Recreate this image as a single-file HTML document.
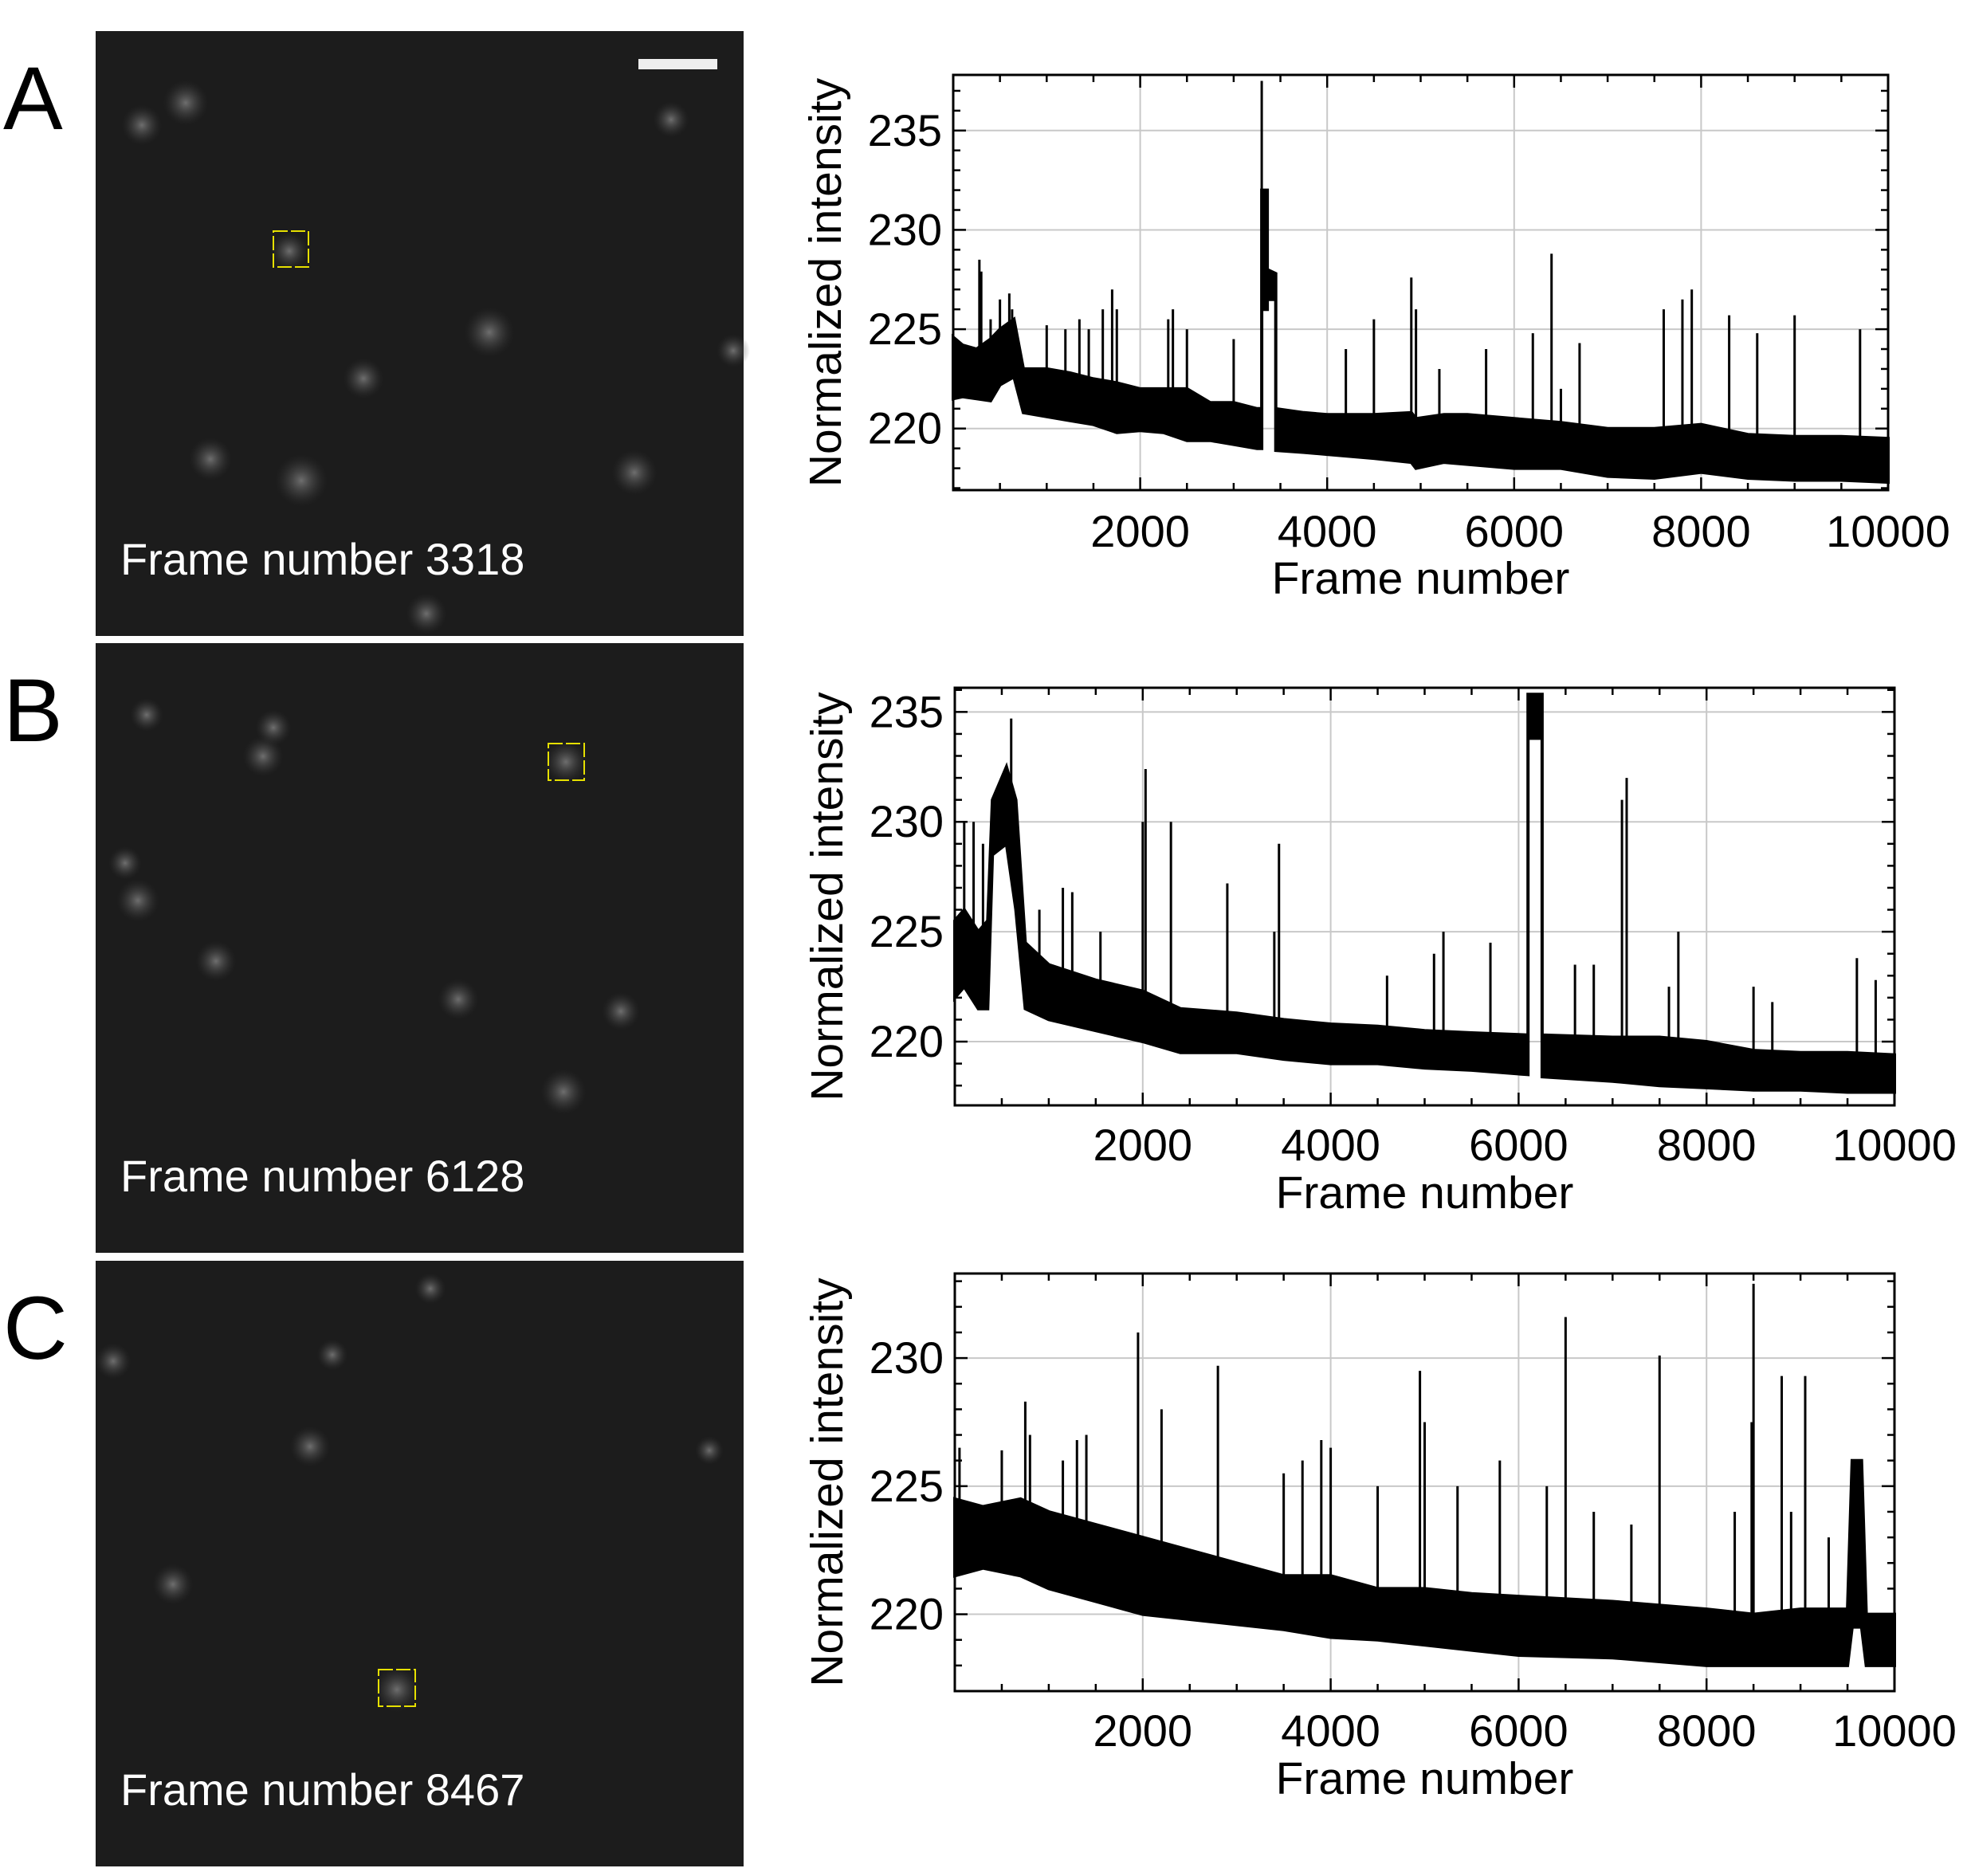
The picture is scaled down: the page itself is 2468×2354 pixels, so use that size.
<!DOCTYPE html>
<html><head><meta charset="utf-8">
<style>
html,body{margin:0;padding:0;background:#fff;}
svg{display:block;font-family:"Liberation Sans",Arial,sans-serif;}
</style></head>
<body>
<svg id="fig" width="2468" height="2354" viewBox="0 0 2468 2354" xmlns="http://www.w3.org/2000/svg">
<defs>
<radialGradient id="spot" cx="50%" cy="50%" r="50%">
<stop offset="0%" stop-color="#8a8a8a" stop-opacity="0.75"/>
<stop offset="60%" stop-color="#5a5a5a" stop-opacity="0.3"/>
<stop offset="100%" stop-color="#333" stop-opacity="0"/>
</radialGradient>
</defs>
<g id="images"></g>
<g id="charts"></g>
</svg>
<script>
// ---------- Panel A data ----------
const framesA = [0,100,250,400,500,650,750,1000,1250,1500,1750,2000,2250,2500,2750,3000,3250,3300,3300,3360,3360,3450,3450,3750,4000,4500,4900,4950,5250,5500,6000,6500,7000,7500,8000,8500,9000,9500,10000];
const lowA    = [221.5,221.6,221.5,221.4,222.2,222.6,220.8,220.6,220.4,220.2,219.8,219.9,219.8,219.4,219.4,219.2,219.0,219.0,226.0,226.0,226.5,226.5,218.9,218.8,218.7,218.5,218.3,218.0,218.3,218.2,218.0,218.0,217.6,217.5,217.8,217.5,217.4,217.4,217.3];
const highA   = [224.6,224.2,224.0,224.5,225.0,225.5,223.0,223.0,222.8,222.5,222.3,222.0,222.0,222.0,221.3,221.3,221.0,221.0,232.0,232.0,228.0,227.8,221.0,220.8,220.7,220.7,220.8,220.5,220.7,220.7,220.5,220.3,220.0,220.0,220.2,219.7,219.6,219.6,219.5];
const spikeFramesA = [280,300,400,500,600,630,1000,1200,1350,1450,1600,1700,1750,2300,2350,2500,3000,3300,4200,4500,4900,4950,5200,5700,6200,6400,6500,6700,7600,7800,7900,8300,8600,9000,9700];
const spikeValuesA = [228.5,227.9,225.5,226.5,226.8,226.0,225.2,225.0,225.5,225.0,226.0,227.0,226.0,225.5,226.0,225.0,224.5,237.5,224.0,225.5,227.6,226.0,223.0,224.0,224.8,228.8,222.0,224.3,226.0,226.5,227.0,225.7,224.8,225.7,225.0];

// ---------- Panel B data ----------
const framesB = [0,100,250,350,400,550,650,750,1000,1500,2000,2400,3000,3500,4000,4500,5000,5500,6100,6100,6250,6250,7000,7500,8000,8500,9000,9500,10000];
const lowB    = [222.0,222.5,221.5,221.5,228.5,229.0,226.0,221.5,221.0,220.5,220.0,219.5,219.5,219.2,219.0,219.0,218.8,218.7,218.5,233.8,233.8,218.4,218.2,218.0,217.9,217.8,217.8,217.7,217.7];
const highB   = [225.5,226.0,225.0,225.5,231.0,232.5,231.0,224.5,223.5,222.8,222.3,221.5,221.3,221.0,220.8,220.7,220.5,220.4,220.3,235.8,235.8,220.3,220.2,220.2,220.0,219.6,219.5,219.5,219.4];
const spikeFramesB = [100,200,300,600,900,1150,1250,1550,2000,2030,2300,2900,3400,3450,4600,5100,5200,5700,6600,6800,7100,7150,7600,7700,8500,8700,9600,9800];
const spikeValuesB = [230.0,230.0,229.0,234.7,226.0,227.0,226.8,225.0,230.0,232.4,230.0,227.2,225.0,229.0,223.0,224.0,225.0,224.5,223.5,223.5,231.0,232.0,222.5,225.0,222.5,221.8,223.8,222.8];

// ---------- Panel C data ----------
const framesC = [0,300,700,1000,1500,2000,2500,3000,3500,4000,4500,5000,5500,6000,7000,8000,8500,9000,9500,9550,9650,9700,10000];
const lowC    = [221.5,221.8,221.5,221.0,220.5,220.0,219.8,219.6,219.4,219.1,219.0,218.8,218.6,218.4,218.3,218.0,218.0,218.0,218.0,219.5,219.5,218.0,218.0];
const highC   = [224.5,224.2,224.5,224.0,223.5,223.0,222.5,222.0,221.5,221.5,221.0,221.0,220.8,220.7,220.5,220.2,220.0,220.2,220.2,226.0,226.0,220.0,220.0];
const spikeFramesC = [50,500,750,800,1150,1300,1400,1950,2200,2800,3500,3700,3900,4000,4500,4950,5000,5350,5800,6300,6500,6800,7200,7500,8300,8480,8500,8800,8900,9050,9300,9600];
const spikeValuesC = [226.5,226.4,228.3,227.0,226.0,226.8,227.0,231.0,228.0,229.7,225.5,226.0,226.8,226.5,225.0,229.5,227.5,225.0,226.0,225.0,231.6,224.0,223.5,230.1,224.0,227.5,232.9,229.3,224.0,229.3,223.0,226.0];

const xTicks = [2000,4000,6000,8000,10000];
const yTicksA = [220,225,230,235];
const yTicksB = [220,225,230,235];
const yTicksC = [220,225,230];

const NS = "http://www.w3.org/2000/svg";
function mk(tag, attrs, parent){
  const e = document.createElementNS(NS, tag);
  for (const k in attrs) e.setAttribute(k, attrs[k]);
  parent.appendChild(e);
  return e;
}

// ---------- microscope images ----------
const imgG = document.getElementById('images');
const imgs = [
  {id:'a', letter:'A', top:39, bottom:798, label:'Frame number 3318', box:[343,290,44,45], bar:true,
   spots:[[233,129,38],[178,157,34],[363,315,32],[614,417,42],[456,475,34],[264,576,36],[378,603,44],[796,593,38],[535,770,34],[842,150,30],[920,440,28]]},
  {id:'b', letter:'B', top:807, bottom:1572, label:'Frame number 6128', box:[688,933,45,46], bar:false,
   spots:[[330,949,34],[343,913,30],[710,956,36],[173,1130,36],[271,1206,34],[575,1254,34],[779,1269,32],[707,1370,38],[157,1083,28],[184,897,28]]},
  {id:'c', letter:'C', top:1582, bottom:2342, label:'Frame number 8467', box:[475,2095,46,46], bar:false,
   spots:[[142,1708,30],[389,1815,34],[217,1988,34],[498,2120,38],[540,1617,26],[417,1700,26],[890,1820,24]]}
];
imgs.forEach(p=>{
  const g = mk('g',{},imgG);
  
  
  const t = mk('text',{x:4,y:p.top+123,'font-size':112,fill:'#000'},g);
  t.textContent = p.letter;
  
  
  mk('rect',{x:120,y:p.top,width:813,height:p.bottom-p.top,fill:'#1c1c1c'},g);
  p.spots.forEach(s=>{
    const c = mk('circle',{cx:s[0],cy:s[1],r:s[2]*0.75,fill:'url(#spot)'},g);
    
    
  });
  const b = mk('rect',{x:p.box[0],y:p.box[1],width:p.box[2],height:p.box[3],fill:'none',stroke:'#e6e000','stroke-width':2,'stroke-dasharray':'18 4'},g);
  
  
  if (p.bar){
    const sb = mk('rect',{x:801,y:74,width:99,height:13,fill:'#eee'},g);
    
    
  }
  const lt = mk('text',{x:151,y:p.bottom-77,'font-size':56,fill:'#fff'},g);
  lt.textContent = p.label;
  
  
});

// ---------- charts ----------
const chartsG = document.getElementById('charts');
const charts = [
  {id:'a', L:1196, R:2369, T:94, B:615, ymin:216.9, ymax:237.8, frames:framesA, low:lowA, high:highA, sf:spikeFramesA, sv:spikeValuesA, yt:yTicksA, tickY:686, labY:745, ylabX:1055},
  {id:'b', L:1198, R:2377, T:863, B:1387, ymin:217.1, ymax:236.1, frames:framesB, low:lowB, high:highB, sf:spikeFramesB, sv:spikeValuesB, yt:yTicksB, tickY:1456, labY:1516, ylabX:1057},
  {id:'c', L:1198, R:2377, T:1598, B:2122, ymin:217.0, ymax:233.3, frames:framesC, low:lowC, high:highC, sf:spikeFramesC, sv:spikeValuesC, yt:yTicksC, tickY:2191, labY:2251, ylabX:1057}
];
charts.forEach(c=>{
  const g = mk('g',{},chartsG);
  
  
  const xs = v => c.L + (v/10000)*(c.R-c.L);
  const ys = v => c.B - (v-c.ymin)/(c.ymax-c.ymin)*(c.B-c.T);
  xTicks.slice(0,-1).forEach(v=>{
    const l = mk('line',{x1:xs(v),x2:xs(v),y1:c.T,y2:c.B,stroke:'#c8c8c8','stroke-width':2},g);
    
    
  });
  c.yt.forEach(v=>{
    const l = mk('line',{x1:c.L,x2:c.R,y1:ys(v),y2:ys(v),stroke:'#c8c8c8','stroke-width':2},g);
    
    
  });
  let d = '';
  for (let i=0;i<c.frames.length;i++) d += (i?'L':'M') + xs(c.frames[i]).toFixed(1) + ',' + ys(c.high[i]).toFixed(1);
  for (let i=c.frames.length-1;i>=0;i--) d += 'L' + xs(c.frames[i]).toFixed(1) + ',' + ys(c.low[i]).toFixed(1);
  d += 'Z';
  const band = mk('path',{d:d,fill:'#000',stroke:'#000','stroke-width':4,'stroke-linejoin':'miter'},g);
  
  
  c.sf.forEach((f,i)=>{
    let j=0; while (j<c.frames.length-2 && c.frames[j+1]<f) j++;
    const span = c.frames[j+1]-c.frames[j];
    const t = span>0 ? (f-c.frames[j])/span : 0;
    const base = c.low[j] + t*(c.low[j+1]-c.low[j]);
    const s = mk('line',{x1:xs(f),x2:xs(f),y1:ys(base),y2:ys(c.sv[i]),stroke:'#000','stroke-width':3},g);
    
    
  });
  const fr = mk('rect',{x:c.L,y:c.T,width:c.R-c.L,height:c.B-c.T,fill:'none',stroke:'#000','stroke-width':3},g);
  
  
  for (let v=500; v<10000; v+=500){
    const major = v%2000===0;
    const len = major?16:9;
    mk('line',{x1:xs(v),x2:xs(v),y1:c.B,y2:c.B-len,stroke:'#000','stroke-width':2.5},g);
    mk('line',{x1:xs(v),x2:xs(v),y1:c.T,y2:c.T+len,stroke:'#000','stroke-width':2.5},g);
  }
  for (let v=Math.ceil(c.ymin); v<=c.ymax; v++){
    const major = v%5===0;
    const len = major?16:9;
    mk('line',{x1:c.L,x2:c.L+len,y1:ys(v),y2:ys(v),stroke:'#000','stroke-width':2.5},g);
    mk('line',{x1:c.R,x2:c.R-len,y1:ys(v),y2:ys(v),stroke:'#000','stroke-width':2.5},g);
  }
  xTicks.forEach(v=>{
    const t = mk('text',{x:xs(v),y:c.tickY,'font-size':56,'text-anchor':'middle',fill:'#000'},g);
    t.textContent = v;
    
    
  });
  c.yt.forEach(v=>{
    const t = mk('text',{x:c.L-14,y:ys(v)+19,'font-size':56,'text-anchor':'end',fill:'#000'},g);
    t.textContent = v;
    
    
  });
  const xl = mk('text',{x:(c.L+c.R)/2,y:c.labY,'font-size':57,'text-anchor':'middle',fill:'#000'},g);
  xl.textContent = 'Frame number';
  
  
  const cy = (c.T+c.B)/2;
  const yl = mk('text',{x:c.ylabX,y:cy,'font-size':57,'text-anchor':'middle',fill:'#000',transform:'rotate(-90 '+c.ylabX+' '+cy+')'},g);
  yl.textContent = 'Normalized intensity';
  
  
});
</script>
</body></html>
